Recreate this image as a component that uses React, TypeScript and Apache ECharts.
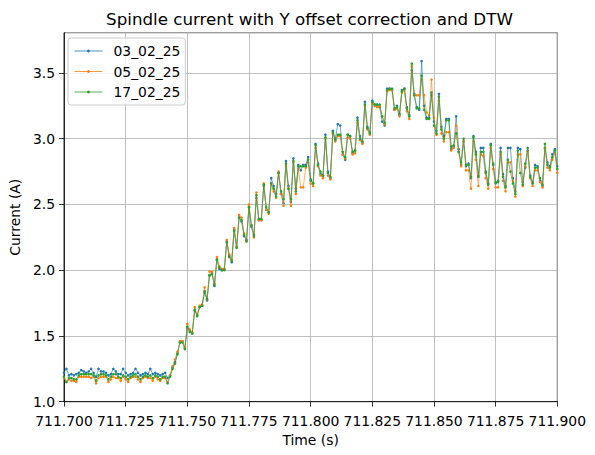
import { useEffect, useRef } from 'react';
import * as echarts from 'echarts';

// sampling: 1 ms from 711.700 s
const T_START = 711.7;
const T_STEP = 0.001;

const SERIES_NAMES = ['03_02_25', '05_02_25', '17_02_25'];
const COLORS = ['#1f77b4', '#ff7f0e', '#2ca02c'];

const X_MIN = 711.7;
const X_MAX = 711.9;
const X_INTERVAL = 0.025;
const Y_MIN = 1.0;
const Y_MAX = 3.806;
const Y_INTERVAL = 0.5;

// current (A), one value per ms
const current_03_02_25 = [
  1.22, 1.25, 1.20, 1.21, 1.20, 1.21, 1.22, 1.24, 1.23, 1.22,
  1.23, 1.25, 1.22, 1.19, 1.25, 1.23, 1.23, 1.22, 1.20, 1.21,
  1.25, 1.23, 1.21, 1.21, 1.25, 1.22, 1.20, 1.21, 1.22, 1.25,
  1.22, 1.20, 1.21, 1.22, 1.21, 1.25, 1.21, 1.22, 1.21, 1.20,
  1.21, 1.22, 1.18, 1.20, 1.26, 1.30, 1.37, 1.45, 1.46, 1.41,
  1.56, 1.54, 1.52, 1.69, 1.66, 1.72, 1.73, 1.83, 1.77, 1.96,
  1.98, 1.88, 2.08, 2.01, 2.00, 2.01, 2.22, 2.11, 2.06, 2.31,
  2.18, 2.40, 2.37, 2.26, 2.23, 2.48, 2.33, 2.27, 2.55, 2.38,
  2.38, 2.64, 2.46, 2.44, 2.70, 2.64, 2.58, 2.74, 2.58, 2.51,
  2.83, 2.64, 2.52, 2.85, 2.62, 2.80, 2.76, 2.80, 2.80, 2.86,
  2.69, 2.66, 2.96, 2.81, 2.73, 2.72, 3.03, 2.75, 2.70, 3.06,
  3.00, 3.11, 3.10, 2.88, 2.84, 3.03, 3.02, 2.89, 2.91, 3.16,
  3.02, 2.97, 3.28, 3.09, 3.05, 3.29, 3.26, 3.26, 3.24, 3.13,
  3.10, 3.38, 3.38, 3.37, 3.22, 3.25, 3.18, 3.37, 3.38, 3.24,
  3.18, 3.52, 3.34, 3.24, 3.22, 3.59, 3.25, 3.16, 3.16, 3.33,
  3.13, 3.06, 3.34, 3.09, 3.02, 3.15, 3.15, 2.92, 2.94, 3.17,
  2.92, 2.80, 2.98, 2.79, 2.81, 2.70, 3.02, 2.90, 2.72, 2.93,
  2.93, 2.75, 2.66, 2.96, 2.80, 2.66, 2.68, 2.93, 2.73, 2.64,
  2.93, 2.93, 2.70, 2.60, 2.93, 2.92, 2.67, 2.78, 2.91, 2.72,
  2.67, 2.80, 2.79, 2.68, 2.64, 2.93, 2.82, 2.79, 2.88, 2.92,
  2.79,
];

const current_05_02_25 = [
  1.18, 1.15, 1.17, 1.16, 1.16, 1.15, 1.19, 1.19, 1.19, 1.19,
  1.19, 1.18, 1.19, 1.14, 1.18, 1.19, 1.19, 1.19, 1.15, 1.17,
  1.19, 1.18, 1.18, 1.16, 1.19, 1.17, 1.15, 1.18, 1.19, 1.19,
  1.17, 1.15, 1.18, 1.19, 1.18, 1.18, 1.16, 1.19, 1.17, 1.16,
  1.18, 1.18, 1.15, 1.20, 1.27, 1.32, 1.38, 1.46, 1.46, 1.41,
  1.59, 1.55, 1.53, 1.72, 1.66, 1.73, 1.74, 1.87, 1.78, 1.99,
  1.99, 1.90, 2.10, 2.03, 2.01, 2.01, 2.23, 2.12, 2.08, 2.32,
  2.18, 2.42, 2.40, 2.28, 2.22, 2.50, 2.34, 2.25, 2.59, 2.38,
  2.38, 2.66, 2.46, 2.43, 2.65, 2.60, 2.55, 2.75, 2.58, 2.49,
  2.79, 2.62, 2.49, 2.82, 2.58, 2.77, 2.63, 2.63, 2.78, 2.82,
  2.66, 2.64, 2.93, 2.79, 2.72, 2.70, 3.00, 2.72, 2.69, 3.04,
  2.98, 3.02, 3.02, 2.88, 2.85, 3.01, 3.00, 2.88, 2.89, 3.12,
  2.99, 2.96, 3.25, 3.07, 3.03, 3.27, 3.25, 3.24, 3.25, 3.17,
  3.11, 3.36, 3.37, 3.37, 3.22, 3.23, 3.17, 3.35, 3.37, 3.21,
  3.15, 3.55, 3.33, 3.33, 3.33, 3.45, 3.33, 3.20, 3.18, 3.45,
  3.16, 3.03, 3.29, 3.04, 2.98, 3.05, 3.05, 2.91, 2.93, 3.10,
  2.90, 2.79, 2.98, 2.76, 2.76, 2.62, 2.98, 2.84, 2.64, 2.88,
  2.87, 2.70, 2.62, 2.93, 2.77, 2.63, 2.63, 2.88, 2.68, 2.60,
  2.82, 2.82, 2.68, 2.56, 2.88, 2.88, 2.64, 2.79, 2.90, 2.70,
  2.64, 2.76, 2.76, 2.67, 2.63, 2.93, 2.78, 2.76, 2.84, 2.89,
  2.74,
];

const current_17_02_25 = [
  1.19, 1.15, 1.18, 1.18, 1.17, 1.17, 1.20, 1.21, 1.21, 1.21,
  1.21, 1.21, 1.20, 1.16, 1.20, 1.21, 1.21, 1.20, 1.17, 1.19,
  1.21, 1.21, 1.19, 1.18, 1.20, 1.19, 1.17, 1.19, 1.20, 1.21,
  1.19, 1.17, 1.19, 1.20, 1.19, 1.20, 1.18, 1.20, 1.19, 1.17,
  1.19, 1.19, 1.14, 1.19, 1.25, 1.29, 1.36, 1.45, 1.45, 1.40,
  1.57, 1.53, 1.52, 1.70, 1.65, 1.72, 1.73, 1.84, 1.78, 1.96,
  1.97, 1.89, 2.08, 2.02, 2.00, 2.00, 2.21, 2.10, 2.07, 2.30,
  2.17, 2.40, 2.38, 2.27, 2.22, 2.48, 2.34, 2.26, 2.57, 2.39,
  2.39, 2.65, 2.48, 2.44, 2.66, 2.62, 2.56, 2.74, 2.60, 2.54,
  2.81, 2.62, 2.54, 2.83, 2.60, 2.79, 2.79, 2.79, 2.79, 2.84,
  2.68, 2.66, 2.95, 2.80, 2.75, 2.72, 3.01, 2.74, 2.71, 3.05,
  2.99, 3.03, 3.03, 2.90, 2.86, 3.03, 3.02, 2.90, 2.91, 3.14,
  3.00, 2.98, 3.26, 3.08, 3.04, 3.28, 3.26, 3.26, 3.26, 3.17,
  3.12, 3.37, 3.38, 3.38, 3.23, 3.24, 3.19, 3.36, 3.38, 3.23,
  3.17, 3.57, 3.33, 3.23, 3.23, 3.48, 3.22, 3.15, 3.15, 3.35,
  3.10, 3.04, 3.32, 3.07, 3.00, 3.14, 3.14, 2.94, 2.95, 3.04,
  2.90, 2.82, 3.00, 2.80, 2.80, 2.71, 3.01, 2.88, 2.71, 2.90,
  2.90, 2.74, 2.65, 2.95, 2.81, 2.67, 2.67, 2.90, 2.71, 2.63,
  2.84, 2.75, 2.66, 2.58, 2.91, 2.74, 2.65, 2.81, 2.93, 2.71,
  2.66, 2.78, 2.78, 2.70, 2.65, 2.96, 2.80, 2.78, 2.86, 2.91,
  2.77,
];

const SERIES_VALUES = [current_03_02_25, current_05_02_25, current_17_02_25];

const FONT = 'DejaVu Sans';

export default function App() {
  const chartRef = useRef<HTMLDivElement>(null);

  useEffect(() => {
    if (!chartRef.current) return;
    const chart = echarts.init(chartRef.current, undefined, { renderer: 'svg' });

    const times = current_17_02_25.map((_, i) => +(T_START + i * T_STEP).toFixed(3));

    const series = SERIES_VALUES.map((vals, k) => ({
      type: 'line',
      name: SERIES_NAMES[k],
      data: vals.map((v, i) => [times[i], v]),
      symbol: 'circle',
      symbolSize: 2.6,
      showSymbol: true,
      lineStyle: { color: COLORS[k], width: 0.7, opacity: 0.9 },
      itemStyle: { color: COLORS[k] },
      emphasis: { disabled: true },
      z: 2 + k,
    }));

    chart.setOption({
      animation: false,
      backgroundColor: '#ffffff',
      textStyle: { fontFamily: FONT },
      grid: {
        left: 61.5,
        right: 37.7,
        top: 32.7,
        bottom: 53.3,
        show: true,
        borderColor: '#000000',
        borderWidth: 0.8,
        backgroundColor: 'transparent',
      },
      graphic: [
        {
          type: 'text',
          x: 309.5,
          y: 18.5,
          style: {
            text: 'Spindle current with Y offset correction and DTW',
            fontFamily: FONT,
            fontSize: 16.7,
            fill: '#000000',
            textAlign: 'center',
            textVerticalAlign: 'middle',
          },
        },
      ],
      legend: {
        orient: 'vertical',
        left: 68,
        top: 38,
        padding: [6, 5, 6, 6],
        itemGap: 6.5,
        itemWidth: 28,
        itemHeight: 3.5,
        backgroundColor: 'rgba(255,255,255,0.8)',
        borderColor: '#cccccc',
        borderWidth: 1,
        borderRadius: 3,
        lineStyle: { width: 0.9 },
        textStyle: { fontFamily: FONT, fontSize: 13.9, color: '#000000', padding: [0, 0, 0, 6] },
        data: SERIES_NAMES,
      },
      xAxis: {
        type: 'value',
        min: X_MIN,
        max: X_MAX,
        interval: X_INTERVAL,
        name: 'Time (s)',
        nameLocation: 'middle',
        nameGap: 31,
        nameTextStyle: { fontFamily: FONT, fontSize: 13.9, color: '#000000' },
        axisLine: { show: true, lineStyle: { color: '#000000', width: 0.8 } },
        axisTick: { show: true, inside: false, length: 4.9, lineStyle: { color: '#000000', width: 0.8 } },
        axisLabel: {
          fontFamily: FONT,
          fontSize: 13.9,
          color: '#000000',
          margin: 12,
          formatter: (v: number) => v.toFixed(3),
        },
        splitLine: { show: true, lineStyle: { color: '#b0b0b0', width: 0.8 } },
      },
      yAxis: {
        type: 'value',
        min: Y_MIN,
        max: Y_MAX,
        interval: Y_INTERVAL,
        name: 'Current (A)',
        nameLocation: 'middle',
        nameGap: 38,
        nameTextStyle: { fontFamily: FONT, fontSize: 13.9, color: '#000000' },
        axisLine: { show: true, lineStyle: { color: '#000000', width: 0.8 } },
        axisTick: { show: true, inside: false, length: 4.9, lineStyle: { color: '#000000', width: 0.8 } },
        axisLabel: {
          fontFamily: FONT,
          fontSize: 13.9,
          color: '#000000',
          margin: 9,
          showMaxLabel: false,
          formatter: (v: number) => {
            const k = Math.round(v / Y_INTERVAL);
            return Math.abs(k * Y_INTERVAL - v) < 1e-6 ? v.toFixed(1) : '';
          },
        },
        splitLine: { show: true, lineStyle: { color: '#b0b0b0', width: 0.8 } },
      },
      series,
    });

    return () => {
      chart.dispose();
    };
  }, []);

  return (
    <div
      ref={chartRef}
      style={{ position: 'absolute', left: 0, top: 0, width: '595px', height: '455px' }}
    />
  );
}
